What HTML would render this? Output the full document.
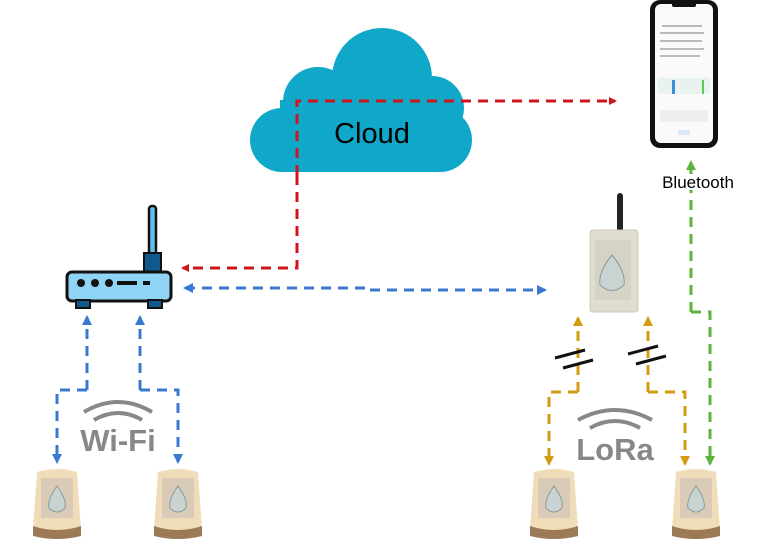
<!DOCTYPE html>
<html><head><style>body{margin:0;background:#fff}svg{display:block}</style></head><body>
<svg width="768" height="539" viewBox="0 0 768 539" xmlns="http://www.w3.org/2000/svg" font-family="Liberation Sans, sans-serif">
<defs>
<marker id="ar" markerWidth="8" markerHeight="8" refX="6" refY="4" orient="auto" markerUnits="userSpaceOnUse"><path d="M0,0 L8,4 L0,8 z" fill="#d0141c"/></marker>
<marker id="ab" markerWidth="10" markerHeight="10" refX="8" refY="5" orient="auto-start-reverse" markerUnits="userSpaceOnUse"><path d="M0,0 L10,5 L0,10 z" fill="#3a78d0"/></marker>
<marker id="ao" markerWidth="10" markerHeight="10" refX="8" refY="5" orient="auto" markerUnits="userSpaceOnUse"><path d="M0,0 L10,5 L0,10 z" fill="#d39b10"/></marker>
<marker id="ag" markerWidth="10" markerHeight="10" refX="8" refY="5" orient="auto" markerUnits="userSpaceOnUse"><path d="M0,0 L10,5 L0,10 z" fill="#5db43a"/></marker>
<g id="sensor"><path d="M4,4 Q24,-2 44,4 L48,62 Q24,70 0,62 Z" fill="#efdcb8"/><path d="M0,58 Q24,66 48,58 L48,68 Q24,74 0,68Z" fill="#9c7a58"/><rect x="8" y="10" width="32" height="40" fill="#d9cbb7"/><path d="M24,18 Q34,32 32,40 Q24,48 16,40 Q14,32 24,18Z" fill="#c8d3d2" stroke="#8a9a9a"/></g>
</defs>
<!-- cloud -->
<g fill="#0fa8c8">
<circle cx="282" cy="140" r="32"/>
<circle cx="318" cy="102" r="35"/>
<circle cx="382" cy="78" r="50"/>
<circle cx="432" cy="108" r="32"/>
<circle cx="440" cy="140" r="32"/>
<rect x="280" y="100" width="160" height="72"/>
</g>
<text x="372" y="143" font-size="29" text-anchor="middle" fill="#000">Cloud</text>
<!-- phone -->
<rect x="650" y="0" width="68" height="148" rx="10" fill="#111"/>
<rect x="655" y="4" width="58" height="139" rx="6" fill="#fafafa"/>
<rect x="672" y="2" width="24" height="5" rx="2" fill="#111"/>
<g fill="#bbb"><rect x="662" y="25" width="40" height="2"/><rect x="660" y="32" width="44" height="2"/><rect x="660" y="40" width="42" height="2"/><rect x="660" y="48" width="44" height="2"/><rect x="660" y="55" width="40" height="2"/></g>
<rect x="658" y="78" width="52" height="16" fill="#e8f3f0"/><rect x="672" y="80" width="3" height="14" fill="#3a8fd8"/><rect x="702" y="80" width="2" height="14" fill="#5c5"/>
<rect x="660" y="110" width="48" height="12" fill="#eee"/><rect x="678" y="130" width="12" height="5" fill="#dde8f8"/>
<!-- router -->
<rect x="149" y="206" width="7" height="48" rx="3" fill="#5fc0ee" stroke="#111" stroke-width="2.5"/>
<rect x="144" y="253" width="17" height="20" fill="#11598c" stroke="#111" stroke-width="2"/>
<rect x="67" y="272" width="104" height="29" rx="5" fill="#8fd3f5" stroke="#111" stroke-width="3"/>
<rect x="76" y="300" width="14" height="8" fill="#11598c" stroke="#111" stroke-width="2"/><rect x="148" y="300" width="14" height="8" fill="#11598c" stroke="#111" stroke-width="2"/>
<circle cx="81" cy="283" r="4" fill="#111"/><circle cx="95" cy="283" r="4" fill="#111"/><circle cx="109" cy="283" r="4" fill="#111"/><rect x="117" y="281" width="20" height="4" fill="#111"/><rect x="143" y="281" width="7" height="4" fill="#111"/>
<!-- gateway -->
<rect x="617" y="193" width="6" height="40" rx="3" fill="#222"/>
<rect x="590" y="230" width="48" height="82" rx="3" fill="#e0ddcf" stroke="#cfc9b8"/>
<rect x="595" y="240" width="36" height="60" fill="#d6d2c4"/>
<path d="M612,255 Q626,272 624,285 Q612,296 600,285 Q598,272 612,255Z" fill="#c8d3d2" stroke="#8a9a9a"/>
<!-- sensors -->
<use href="#sensor" x="33" y="468"/><use href="#sensor" x="154" y="468"/><use href="#sensor" x="530" y="468"/><use href="#sensor" x="672" y="468"/>
<!-- lines -->
<g fill="none" stroke-width="3" stroke-dasharray="10,7">
<path d="M297,175 L297,268 L183,268" stroke="#d0141c" marker-end="url(#ar)"/>
<path d="M297,175 L297,101 L615,101" stroke="#d0141c" marker-end="url(#ar)"/>
<path d="M185,288 L365,288 L365,290 L545,290" stroke="#3a78d0" marker-start="url(#ab)" marker-end="url(#ab)"/>
<path d="M87,390 L87,317" stroke="#3a78d0" marker-end="url(#ab)"/>
<path d="M87,390 L57,390 L57,462" stroke="#3a78d0" marker-end="url(#ab)"/>
<path d="M140,390 L140,317" stroke="#3a78d0" marker-end="url(#ab)"/>
<path d="M140,390 L178,390 L178,462" stroke="#3a78d0" marker-end="url(#ab)"/>
<path d="M578,392 L578,318" stroke="#d39b10" marker-end="url(#ao)"/>
<path d="M578,392 L549,392 L549,464" stroke="#d39b10" marker-end="url(#ao)"/>
<path d="M648,392 L648,318" stroke="#d39b10" marker-end="url(#ao)"/>
<path d="M648,392 L685,392 L685,464" stroke="#d39b10" marker-end="url(#ao)"/>
<path d="M691,312 L691,162" stroke="#5db43a" marker-end="url(#ag)"/>
<path d="M691,312 L710,312 L710,464" stroke="#5db43a" marker-end="url(#ag)"/>
</g>
<rect x="655" y="174" width="86" height="16" fill="#fff"/>
<text x="698" y="188" font-size="17" text-anchor="middle" fill="#000">Bluetooth</text>
<g stroke="#111" stroke-width="3"><line x1="555" y1="358" x2="585" y2="350"/><line x1="563" y1="368" x2="593" y2="360"/><line x1="628" y1="354" x2="658" y2="346"/><line x1="636" y1="364" x2="666" y2="356"/></g>
<!-- wifi / lora -->
<g fill="none" stroke="#888" stroke-width="4"><path d="M84,412 Q118,392 152,412"/><path d="M94,420 Q118,406 142,420"/><path d="M578,420 Q615,400 652,420"/><path d="M590,428 Q615,414 640,428"/></g>
<text x="118" y="451" font-size="31" font-weight="bold" fill="#888" text-anchor="middle">Wi-Fi</text>
<text x="615" y="460" font-size="31" font-weight="bold" fill="#888" text-anchor="middle">LoRa</text>
</svg>
</body></html>
